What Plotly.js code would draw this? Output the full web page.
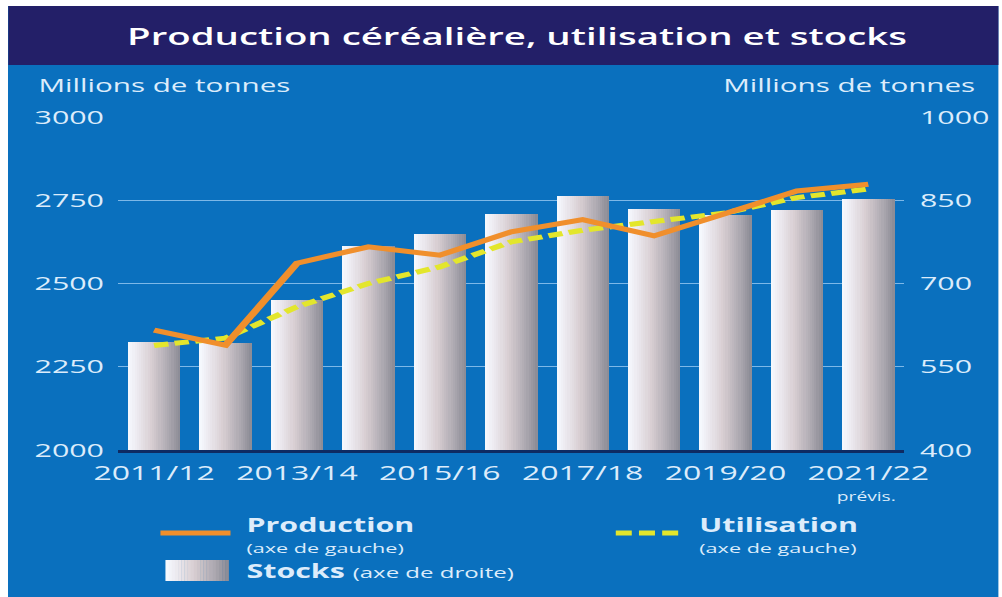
<!DOCTYPE html>
<html>
<head>
<meta charset="utf-8">
<script src="https://cdn.plot.ly/plotly-3.0.1.min.js"></script>
<style>
  html, body { margin: 0; padding: 0; background: #ffffff; overflow: hidden; width: 1002px; height: 597px; }
  #chart { position: absolute; left: 8px; top: 6px; height: 591px; transform-origin: 0 0; }
</style>
</head>
<body>
<div id="chart"></div>
<script>
// ---- data ----
const seasons = ['2011/12','2012/13','2013/14','2014/15','2015/16','2016/17','2017/18','2018/19','2019/20','2020/21','2021/22'];
const tickSeasons = ['2011/12','2013/14','2015/16','2017/18','2019/20','2021/22'];
const production = [2360, 2315, 2561, 2610, 2585, 2655, 2692, 2643, 2710, 2778, 2798];
const utilisation = [2314, 2336, 2430, 2500, 2550, 2625, 2660, 2686, 2712, 2758, 2784];
const stocks = [595, 592, 671, 768, 790, 825, 858, 834, 823, 832, 852];
const leftTicks = [2000, 2250, 2500, 2750, 3000];
const rightTicks = [400, 550, 700, 850, 1000];

// ---- geometry (the whole figure is stretched horizontally like the reference) ----
const S = 1.6;
const el = document.getElementById('chart');
const W = 990 / S;
el.style.width = W + 'px';
el.style.transform = 'scaleX(' + S + ')';
const xp = x => (x - 118) / 785;   // page px -> paper
const yp = y => (450 - y) / 333;

const BLUE = '#0a70be', NAVY = '#231f68', TXT = '#dcecfb';
const FONT = 'Open Sans, Noto Sans, sans-serif';

// gradient colours for the cylinder-like bars (style only)
const stops = [[0, [246, 250, 255]], [0.15, [238, 236, 242]], [0.45, [216, 206, 210]], [0.78, [172, 168, 176]], [1, [138, 138, 148]]];
function grad(t) {
  for (let i = 1; i < stops.length; i++) {
    if (t <= stops[i][0]) {
      const a = stops[i - 1], b = stops[i];
      const f = (t - a[0]) / (b[0] - a[0]);
      const c = a[1].map((v, k) => Math.round(v + (b[1][k] - v) * f));
      return 'rgb(' + c.join(',') + ')';
    }
  }
  return 'rgb(138,138,148)';
}

const NS = 24, BW = 0.73;
const traces = [];
for (let i = 0; i < NS; i++) {
  traces.push({
    type: 'bar', x: seasons, y: stocks, base: 0,
    width: BW / NS + 0.004, offset: -BW / 2 + i * BW / NS,
    marker: { color: grad((i + 0.5) / NS), line: { width: 0 } },
    yaxis: 'y', hoverinfo: 'skip', showlegend: false
  });
}
traces.push({
  type: 'scatter', mode: 'lines', x: seasons, y: utilisation, yaxis: 'y2',
  line: { color: '#e3e62c', width: 5, dash: '9px,4px' }, hoverinfo: 'skip', showlegend: false
});
traces.push({
  type: 'scatter', mode: 'lines', x: seasons, y: production, yaxis: 'y2',
  line: { color: '#f08f2c', width: 5 }, hoverinfo: 'skip', showlegend: false
});

const shapes = [
  // navy title band
  { type: 'rect', xref: 'paper', yref: 'paper', x0: xp(8), x1: xp(998), y0: yp(65), y1: yp(6), fillcolor: NAVY, line: { width: 0 }, layer: 'below' },
  // legend: production line
  { type: 'line', xref: 'paper', yref: 'paper', x0: xp(160), x1: xp(230), y0: yp(533), y1: yp(533), line: { color: '#f08f2c', width: 5 } },
  // legend: utilisation dashes
  { type: 'line', xref: 'paper', yref: 'paper', x0: xp(615), x1: xp(680), y0: yp(533), y1: yp(533), line: { color: '#e3e62c', width: 5, dash: '10px,4.5px' } }
];
// legend: stocks swatch gradient
const SW = 20;
for (let i = 0; i < SW; i++) {
  const x0 = 165 + i * (63 / SW);
  shapes.push({ type: 'rect', xref: 'paper', yref: 'paper', x0: xp(x0), x1: xp(x0 + 63 / SW + 0.4), y0: yp(581), y1: yp(560), fillcolor: grad((i + 0.5) / SW), line: { width: 0 } });
}

const ann = (text, x, y, size, anchor, extra) => Object.assign({
  text: text, xref: 'paper', yref: 'paper', x: xp(x), y: yp(y), xanchor: anchor, yanchor: 'middle',
  showarrow: false, borderpad: 0, font: { family: FONT, size: size, color: TXT }
}, extra || {});

const annotations = [
  ann('Millions de tonnes', 36, 85, 18.5, 'left'),
  ann('Millions de tonnes', 977, 85, 18.5, 'right'),
  ann('prévis.', 865, 496, 12, 'center'),
  ann('<b>Production</b>', 245, 525, 19, 'left'),
  ann('(axe de gauche)', 245, 548, 13.5, 'left'),
  ann('<b>Utilisation</b>', 697, 525, 19, 'left'),
  ann('(axe de gauche)', 697, 548, 13.5, 'left'),
  ann('<b>Stocks</b> <span style="font-size:15px">(axe de droite)</span>', 245, 571, 19, 'left')
];

const layout = {
  width: W, height: 591,
  margin: { l: 110 / S, r: 95 / S, t: 111, b: 147, pad: 0 },
  paper_bgcolor: BLUE, plot_bgcolor: BLUE,
  barmode: 'overlay', bargap: 0,
  title: {
    text: 'Production céréalière, utilisation et stocks',
    font: { family: FONT, size: 24, color: '#ffffff', weight: 600 },
    x: (517 - 8) / 990, xanchor: 'center', xref: 'container',
    y: 1 - (37 - 6) / 591, yanchor: 'middle', yref: 'container'
  },
  xaxis: {
    type: 'category', categoryorder: 'array', categoryarray: seasons,
    range: [-0.5, seasons.length - 0.5],
    tickmode: 'array', tickvals: tickSeasons, ticktext: tickSeasons,
    showgrid: false, zeroline: false,
    showline: true, linecolor: '#0e2a62', linewidth: 3,
    ticks: '', ticklabelstandoff: 3,
    tickfont: { family: FONT, size: 20, color: TXT }
  },
  yaxis: {
    side: 'right', range: [400, 1000], tickmode: 'array', tickvals: rightTicks,
    showgrid: true, gridcolor: '#7db8e8', gridwidth: 1, zeroline: false, showline: false,
    ticks: '', ticklabelstandoff: 9,
    tickfont: { family: FONT, size: 19, color: TXT }
  },
  yaxis2: {
    overlaying: 'y', side: 'left', range: [2000, 3000], tickmode: 'array', tickvals: leftTicks,
    showgrid: false, zeroline: false, showline: false,
    ticks: '', ticklabelstandoff: 8,
    tickfont: { family: FONT, size: 19, color: TXT }
  },
  shapes: shapes,
  annotations: annotations,
  showlegend: false
};

Plotly.newPlot(el, traces, layout, { staticPlot: true, displayModeBar: false });
</script>
</body>
</html>
